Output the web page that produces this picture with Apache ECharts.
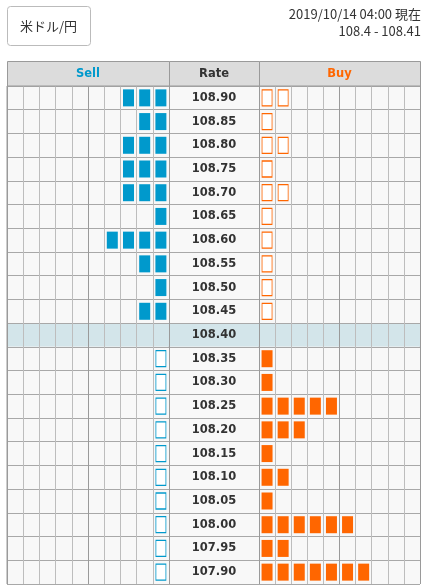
<!DOCTYPE html>
<html><head><meta charset="utf-8">
<script src="https://cdn.jsdelivr.net/npm/echarts@6/dist/echarts.min.js"></script>
<style>html,body{margin:0;padding:0;background:#fff}#c{width:424px;height:587px}</style>
</head><body><div id="c"></div>
<script>
// ---- data ----
const rates = ['108.90','108.85','108.80','108.75','108.70','108.65','108.60','108.55','108.50','108.45','108.40',
               '108.35','108.30','108.25','108.20','108.15','108.10','108.05','108.00','107.95','107.90'];
const sellCounts = [3,2,3,3,3,1,4,2,1,2,0,1,1,1,1,1,1,1,1,1,1];
const buyCounts  = [2,1,2,1,2,1,1,1,1,1,0,1,1,5,3,1,2,1,6,2,7];
const currentRate = '108.40';
const pairName = '米ドル/円';
const timestampText = '2019/10/14 04:00 現在';
const quoteText = '108.4 - 108.41';
const headerLabels = ['Sell','Rate','Buy'];
const cellsPerSide = 10;

// ---- build ----
const curIdx = rates.indexOf(currentRate);
function cells(counts, above) {
  const out = [];
  counts.forEach((n, r) => {
    if ((r < curIdx) !== above) return;
    for (let i = 0; i < n; i++) out.push([i + 0.5, rates[r]]);
  });
  return out;
}
const SELL = '#0099cc', BUY = '#ff6600';
const FONT = 'DejaVu Sans';
const JP = '"Noto Sans CJK JP", sans-serif';
const T = 86, H = 498;
const cols = [{left:7, width:162}, {left:169, width:90}, {left:259, width:161}];
const rowColors = rates.map(r => r === currentRate ? '#d3e5ea' : '#f8f8f8');
const cellLine = ['#9a9a9a','#bdbdbd','#bdbdbd','#bdbdbd','#bdbdbd'];

const grids = cols.map(c => ({left:c.left, width:c.width, top:T, height:H, show:true,
  backgroundColor:'#f8f8f8', borderColor:'#9a9a9a', borderWidth:1}));

function xAx(i, isCells, inverse) {
  return {type:'value', gridIndex:i, min:0, max:isCells?cellsPerSide:1, interval:1, inverse:!!inverse,
    axisLine:{show:false}, axisTick:{show:false}, axisLabel:{show:false},
    splitLine:{show:isCells, lineStyle:{color:cellLine, width:1}}};
}
function yAx(i, showLabel) {
  return {type:'category', gridIndex:i, data:rates, inverse:true,
    axisLine:{show:false}, axisTick:{show:false},
    axisLabel:{show:showLabel, interval:0, margin:-45, align:'center', color:'#333',
      fontWeight:'bold', fontSize:11.5, fontFamily:FONT},
    splitLine:{show:true, interval:0, lineStyle:{color:'#a8a8a8', width:1}},
    splitArea:{show:true, interval:0, areaStyle:{color:rowColors}}};
}
function sc(xi, data, color, hollow) {
  return {type:'scatter', xAxisIndex:xi, yAxisIndex:xi, data, symbol:'rect', silent:true,
    symbolSize: hollow ? [10,16] : [11,17],
    itemStyle: hollow ? {color:'#fff', borderColor:color, borderWidth:1, opacity:1}
                      : {color, borderWidth:0, opacity:1},
    z:5};
}

const hdrGraphics = [];
cols.forEach((c, i) => {
  hdrGraphics.push({type:'rect', shape:{x:c.left+0.5, y:61.5, width:c.width, height:24.5},
    style:{fill:'#dcdcdc', stroke:'#9a9a9a', lineWidth:1}, z:1});
  hdrGraphics.push({type:'text', x:c.left + c.width/2, y:74, z:2,
    style:{text:headerLabels[i], fill:[SELL,'#333',BUY][i], font:'bold 11.5px ' + FONT,
      textAlign:'center', textVerticalAlign:'middle'}});
});

const option = {
  animation:false,
  grid: grids,
  xAxis: [xAx(0,true,true), xAx(1,false), xAx(2,true,false)],
  yAxis: [yAx(0,false), yAx(1,true), yAx(2,false)],
  series: [
    sc(0, cells(sellCounts, true), SELL, false),
    sc(0, cells(sellCounts, false), SELL, true),
    {type:'scatter', xAxisIndex:1, yAxisIndex:1, data:[]},
    sc(2, cells(buyCounts, true), BUY, true),
    sc(2, cells(buyCounts, false), BUY, false)
  ],
  graphic: [
    {type:'rect', shape:{x:7.5, y:6.5, width:83, height:39, r:3},
      style:{fill:'#fff', stroke:'#bbb', lineWidth:1}},
    {type:'text', x:48.5, y:26, style:{text:pairName, fill:'#333', font:'13px ' + JP,
      textAlign:'center', textVerticalAlign:'middle'}},
    {type:'text', x:421, y:14, style:{text:timestampText, fill:'#333', font:'13px ' + JP,
      textAlign:'right', textVerticalAlign:'middle'}},
    {type:'text', x:421, y:31, style:{text:quoteText, fill:'#333', font:'13px ' + JP,
      textAlign:'right', textVerticalAlign:'middle'}}
  ].concat(hdrGraphics)
};
echarts.init(document.getElementById('c')).setOption(option);
</script></body></html>
